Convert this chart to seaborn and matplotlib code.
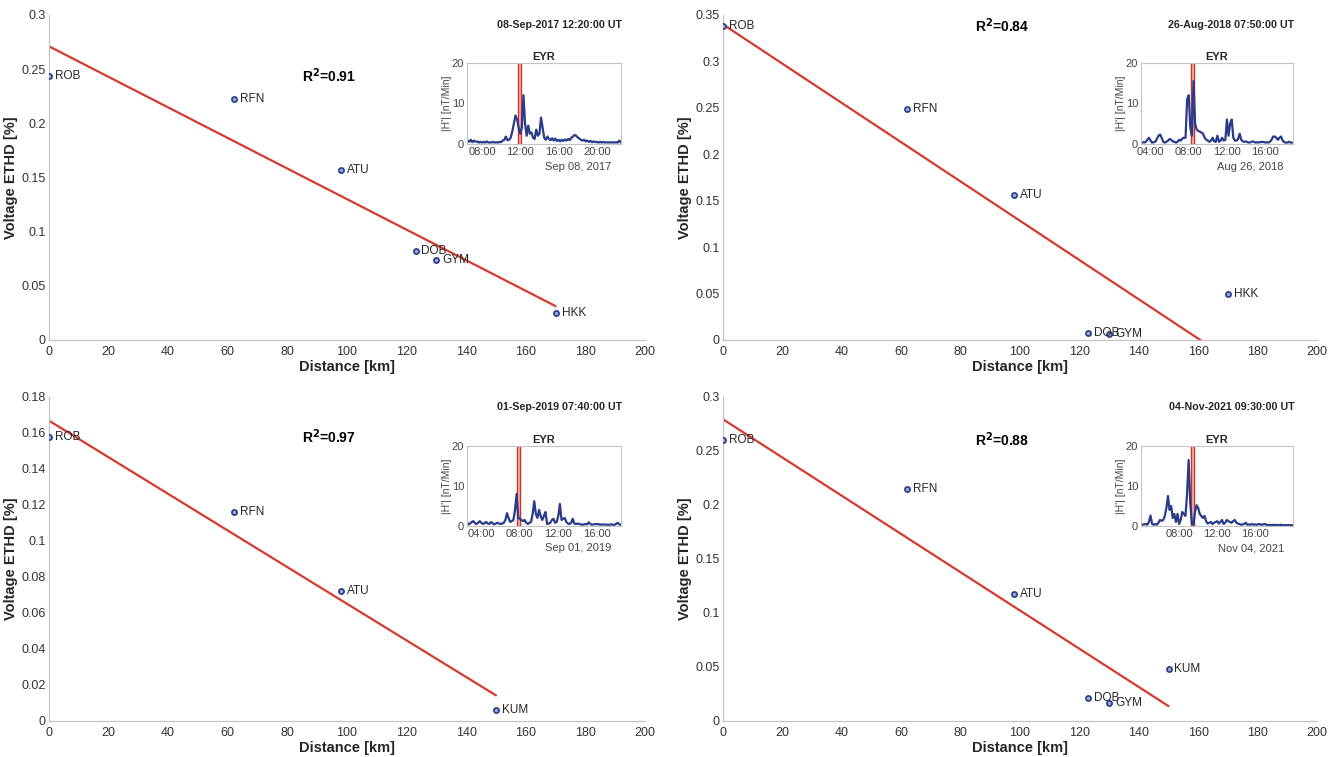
import numpy as np
import pandas as pd
import matplotlib
matplotlib.use('Agg')
import matplotlib.pyplot as plt
import seaborn as sns

sns.set_style('white')
plt.rcParams['font.family'] = ['Liberation Sans', 'DejaVu Sans']

# ---- main panels: ETHD vs distance ----
stations_2017 = ['ROB', 'RFN', 'ATU', 'DOB', 'GYM', 'HKK']
dist_2017 = [0, 62, 98, 123, 130, 170]
ethd_2017 = [0.244, 0.222, 0.157, 0.082, 0.074, 0.025]

stations_2018 = ['ROB', 'RFN', 'ATU', 'DOB', 'GYM', 'HKK']
dist_2018 = [0, 62, 98, 123, 130, 170]
ethd_2018 = [0.338, 0.249, 0.156, 0.008, 0.006, 0.049]

stations_2019 = ['ROB', 'RFN', 'ATU', 'KUM']
dist_2019 = [0, 62, 98, 150]
ethd_2019 = [0.158, 0.116, 0.072, 0.006]

stations_2021 = ['ROB', 'RFN', 'ATU', 'DOB', 'GYM', 'KUM']
dist_2021 = [0, 62, 98, 123, 130, 150]
ethd_2021 = [0.260, 0.215, 0.118, 0.021, 0.017, 0.048]

event_titles = ['08-Sep-2017 12:20:00 UT', '26-Aug-2018 07:50:00 UT',
                '01-Sep-2019 07:40:00 UT', '04-Nov-2021 09:30:00 UT']
r2_labels = ['0.91', '0.84', '0.97', '0.88']
y_max = [0.3, 0.35, 0.18, 0.3]
y_step = [0.05, 0.05, 0.02, 0.05]

# ---- insets: EYR |H'| (10 min samples) ----
eyr_start = [6.5, 3.0, 2.5, 4.0]          # hour of first sample
eyr_xlim = [(6.43, 22.5), (3.0, 18.92), (2.5, 18.5), (4.0, 19.95)]
eyr_ticks = [[8, 12, 16, 20], [4, 8, 12, 16], [4, 8, 12, 16], [8, 12, 16]]
eyr_band = [11.9, 8.39, 7.89, 9.39]        # marked time (h)
eyr_dates = ['Sep 08, 2017', 'Aug 26, 2018', 'Sep 01, 2019', 'Nov 04, 2021']

eyr_2017 = [0.8, 0.5, 1.0, 0.4, 0.8, 0.5, 0.6, 0.3, 0.5, 0.3, 0.5, 0.3,
            0.6, 0.3, 0.4, 0.3, 0.5, 0.3, 0.4, 0.3, 0.5, 0.4, 0.8, 1.0,
            1.8, 0.9, 1.0, 1.5, 3.0, 5.0, 7.0, 6.0, 4.0, 2.5, 4.0, 12.0,
            5.0, 2.0, 4.5, 2.5, 2.8, 1.5, 1.2, 3.5, 2.0, 2.5, 6.5, 4.0,
            1.5, 1.0, 1.8, 1.2, 0.9, 1.4, 0.8, 1.3, 0.7, 1.0, 0.6, 1.0,
            0.7, 1.1, 0.8, 1.2, 0.9, 1.5, 1.8, 2.2, 2.0, 1.6, 1.3, 1.0,
            0.8, 1.0, 0.6, 0.8, 0.5, 0.7, 0.4, 0.6, 0.4, 0.5, 0.3, 0.5,
            0.3, 0.5, 0.3, 0.4, 0.3, 0.4, 0.3, 0.4, 0.3, 0.4, 0.3, 0.8, 0.3]
eyr_2018 = [0.3, 0.4, 0.3, 0.5, 1.0, 1.5, 0.8, 0.3, 0.4, 0.5, 1.2, 2.0,
            2.3, 1.5, 0.5, 0.3, 0.5, 0.8, 1.2, 1.0, 0.6, 0.5, 0.3, 0.5,
            1.0, 0.8, 1.3, 1.5, 1.5, 11.0, 12.0, 4.0, 2.0, 15.5, 5.0, 3.5,
            3.2, 3.0, 2.8, 2.5, 1.5, 1.0, 0.8, 0.5, 0.8, 1.5, 0.6, 0.5,
            2.0, 0.5, 0.8, 1.5, 0.8, 1.0, 6.0, 2.0, 5.0, 6.0, 1.5, 0.8,
            0.8, 1.2, 2.5, 1.0, 0.6, 0.5, 0.6, 0.4, 0.3, 0.4, 0.6, 0.5,
            0.3, 0.4, 0.3, 0.5, 0.4, 0.5, 0.3, 0.4, 0.3, 0.5, 1.0, 1.8,
            1.8, 1.5, 1.0, 1.5, 1.8, 0.8, 0.4, 0.3, 0.3, 0.5, 0.3, 0.3]
eyr_2019 = [1.0, 0.4, 0.6, 1.0, 1.2, 0.7, 0.5, 0.8, 1.2, 0.8, 0.5, 0.7,
            1.0, 0.6, 0.5, 1.0, 0.7, 0.4, 0.6, 0.8, 0.6, 0.5, 0.6, 0.8,
            1.5, 3.2, 2.0, 1.0, 1.2, 1.5, 4.0, 8.0, 2.0, 1.8, 1.5, 1.2,
            1.5, 0.8, 0.5, 0.8, 1.0, 3.0, 6.2, 3.0, 2.0, 4.0, 2.5, 1.5,
            2.5, 3.5, 0.5, 0.6, 0.8, 1.5, 1.8, 0.8, 1.0, 2.5, 5.5, 1.5,
            1.8, 2.0, 1.0, 0.6, 0.5, 0.8, 1.8, 0.6, 0.5, 0.6, 0.5, 0.4,
            0.3, 0.4, 0.5, 0.4, 0.9, 0.5, 0.3, 0.4, 0.5, 0.4, 0.5, 0.3,
            0.4, 0.3, 0.4, 0.3, 0.3, 0.3, 0.4, 0.3, 0.3, 0.5, 0.8, 0.4, 0.3]
eyr_2021 = [0.5, 0.3, 0.4, 0.5, 0.3, 1.0, 2.6, 0.5, 0.3, 0.5, 0.3, 0.8,
            1.5, 1.3, 1.5, 2.5, 4.5, 7.5, 4.0, 5.0, 2.0, 3.0, 1.0, 3.0,
            0.5, 1.5, 3.5, 3.0, 2.5, 8.0, 16.5, 6.0, 0.5, 0.3, 3.5, 5.2,
            4.5, 3.0, 2.5, 2.0, 2.5, 1.2, 0.6, 0.8, 1.0, 0.5, 0.8, 1.0,
            1.2, 0.6, 1.0, 1.5, 0.5, 0.8, 1.5, 1.2, 1.0, 0.8, 1.2, 1.5,
            0.8, 0.6, 0.5, 0.3, 0.4, 0.5, 0.8, 0.3, 0.4, 0.3, 0.5, 0.3,
            0.4, 0.3, 0.5, 0.4, 0.3, 0.4, 0.5, 0.3, 0.2, 0.3, 0.2, 0.3,
            0.2, 0.3, 0.2, 0.2, 0.3, 0.2, 0.2, 0.2, 0.2, 0.2, 0.2, 0.2, 0.2]

panels = [(stations_2017, dist_2017, ethd_2017, eyr_2017),
          (stations_2018, dist_2018, ethd_2018, eyr_2018),
          (stations_2019, dist_2019, ethd_2019, eyr_2019),
          (stations_2021, dist_2021, ethd_2021, eyr_2021)]

RED = '#d43a2f'
NAVY = '#2a3b8c'
DOT_FILL = '#9aa6d4'
SPINE = '#c4c4c4'
TXT = '#262626'

main_pos = [[0.0367, 0.5509, 0.4468, 0.4293], [0.542, 0.5509, 0.4453, 0.4293],
            [0.0367, 0.0476, 0.4468, 0.4280], [0.542, 0.0476, 0.4453, 0.4280]]
inset_pos = [[0.350, 0.810, 0.1154, 0.107], [0.8553, 0.810, 0.114, 0.107],
             [0.350, 0.3052, 0.1154, 0.1057], [0.8553, 0.3052, 0.114, 0.1057]]

fig = plt.figure(figsize=(13.34, 7.57), dpi=100)

for k, (names, dist, ethd, eyr) in enumerate(panels):
    df = pd.DataFrame({'dist': dist, 'ethd': ethd, 'station': names})
    ax = fig.add_axes(main_pos[k])
    sns.regplot(data=df, x='dist', y='ethd', ax=ax, scatter=False, ci=None,
                truncate=True, line_kws=dict(color=RED, lw=1.6))
    sns.scatterplot(data=df, x='dist', y='ethd', ax=ax, s=14, color=DOT_FILL,
                    edgecolor=NAVY, linewidth=1.2, zorder=3, legend=False)
    for _, row in df.iterrows():
        ax.text(row['dist'] + 2, row['ethd'], row['station'], fontsize=8.5,
                va='center', ha='left', color=TXT)
    ax.text(85, ethd[0], 'R$^\\mathbf{2}$=' + r2_labels[k], fontsize=10,
            fontweight='bold', va='center', ha='left', color='black')
    ax.text(0.962, 0.968, event_titles[k], transform=ax.transAxes, fontsize=7.7,
            fontweight='bold', ha='right', va='center', color=TXT)

    ax.set_xlim(0, 200)
    ax.set_ylim(0, y_max[k])
    ax.set_xticks(np.arange(0, 201, 20))
    yt = np.round(np.arange(0, y_max[k] + 1e-9, y_step[k]), 3)
    ax.set_yticks(yt)
    ax.set_yticklabels([f'{v:g}' for v in yt])
    ax.tick_params(direction='in', length=4, width=0.8, color=SPINE,
                   labelsize=9, labelcolor='#333333')
    ax.tick_params(axis='y', pad=2.5)
    ax.tick_params(axis='x', pad=4)
    sns.despine(ax=ax)
    for sp in ['left', 'bottom']:
        ax.spines[sp].set_color(SPINE)
        ax.spines[sp].set_linewidth(0.9)
    ax.set_xlabel('Distance [km]', fontsize=10.5, fontweight='bold', color=TXT)
    ax.set_ylabel('Voltage ETHD [%]', fontsize=10.5, fontweight='bold', color=TXT)
    ax.xaxis.set_label_coords(0.5, -0.062)
    ax.yaxis.set_label_coords(-0.052, 0.5)

    # inset
    iax = fig.add_axes(inset_pos[k])
    t = eyr_start[k] + np.arange(len(eyr)) / 6.0
    iax.axvspan(eyr_band[k] - 0.15, eyr_band[k] + 0.15, facecolor='#f3b9b4',
                edgecolor='#d0302a', lw=1.0, zorder=1)
    sns.lineplot(x=t, y=eyr, ax=iax, color=NAVY, lw=1.6, zorder=2)
    iax.set_xlim(*eyr_xlim[k])
    iax.set_ylim(0, 20)
    iax.set_yticks([0, 10, 20])
    iax.set_xticks(eyr_ticks[k])
    iax.set_xticklabels([f'{h:02d}:00' for h in eyr_ticks[k]])
    iax.tick_params(direction='in', length=2.5, width=0.7, color=SPINE,
                    labelsize=8, labelcolor='#444444', pad=2)
    for sp in iax.spines.values():
        sp.set_color(SPINE)
        sp.set_linewidth(0.8)
    iax.set_title('EYR', fontsize=8, fontweight='bold', pad=2, color=TXT)
    iax.set_xlabel('')
    iax.set_ylabel("|H'| [nT/Min]", fontsize=7.5, color='#444444')
    iax.yaxis.set_label_coords(-0.1, 0.5)
    iax.text(0.94, -0.28, eyr_dates[k], transform=iax.transAxes, fontsize=8,
             ha='right', va='center', color='#444444')

fig.savefig('out.png', dpi=100, facecolor='white')
